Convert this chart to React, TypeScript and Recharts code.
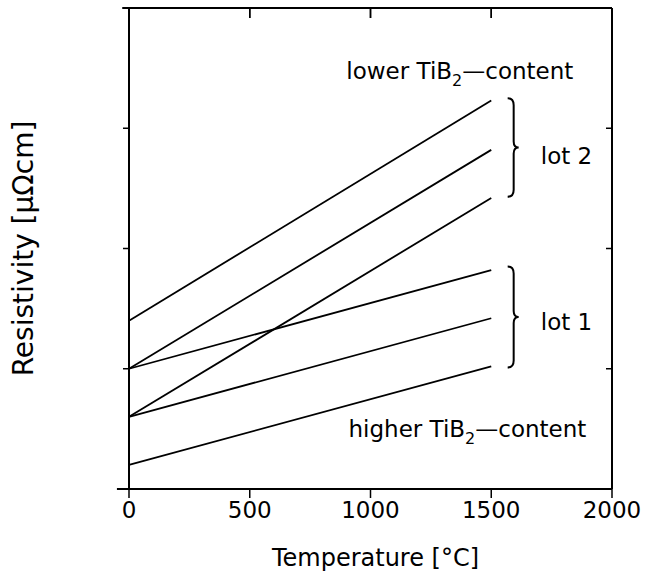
import { LineChart, Line, XAxis, YAxis, ReferenceLine, ReferenceDot } from "recharts";

// temperature (°C) at both ends of each line
const temps = [0, 1500];

// resistivity in axis units (y axis has 4 unlabeled divisions)
const lot2Upper = [1.4, 3.23];
const lot2Middle = [1.0, 2.82];
const lot2Lower = [0.6, 2.42];
const lot1Upper = [1.0, 1.82];
const lot1Middle = [0.6, 1.42];
const lot1Lower = [0.2, 1.02];

const xTicks = [0, 500, 1000, 1500, 2000];
const yTicks = [0, 1, 2, 3, 4];

const rows = temps.map((t, i) => ({
    t,
    l2a: lot2Upper[i],
    l2b: lot2Middle[i],
    l2c: lot2Lower[i],
    l1a: lot1Upper[i],
    l1b: lot1Middle[i],
    l1c: lot1Lower[i],
}));

const seriesKeys = ["l2a", "l2b", "l2c", "l1a", "l1b", "l1c"];

const FONT = "'DejaVu Sans', sans-serif";
const Y_MAX = yTicks[yTicks.length - 1];

// tick marks only, no tick text
const NoText = () => <g />;

const Brace = (props: any) => {
    const { x1, y1, y2 } = props;
    const top = Math.min(y1, y2);
    const bot = Math.max(y1, y2);
    const mid = (top + bot) / 2;
    const x = x1;
    const d = `M ${x} ${top} Q ${x + 6} ${top} ${x + 6} ${top + 7} L ${x + 6} ${mid - 6} Q ${x + 6} ${mid} ${x + 11} ${mid} Q ${x + 6} ${mid} ${x + 6} ${mid + 6} L ${x + 6} ${bot - 7} Q ${x + 6} ${bot} ${x} ${bot}`;
    return <path d={d} fill="none" stroke="#000" strokeWidth={2} />;
};

// inward tick on the top frame: only the top 10px of a full-height reference line
const TopTick = (props: any) => {
    const { x1, y1, y2 } = props;
    const top = Math.min(y1, y2);
    const d = `M ${x1} ${top} L ${x1} ${top + 10}`;
    return <path d={d} fill="none" stroke="#000" strokeWidth={1.5} />;
};

const TiB2Label = (word: string) => (props: any) => (
    <text x={props.cx} y={props.cy} fontSize={23} fontFamily={FONT} fill="#000">
        {word} TiB
        <tspan dy={7} fontSize={16}>2</tspan>
        <tspan dy={-7}>—content</tspan>
    </text>
);

const PlainLabel = (txt: string) => (props: any) => (
    <text x={props.cx} y={props.cy} fontSize={23} fontFamily={FONT} fill="#000">
        {txt}
    </text>
);

const YTitle = (props: any) => {
    const vb = props.viewBox;
    const cx = vb.x + 23;
    const cy = vb.y + vb.height / 2;
    return (
        <text x={cx} y={cy} transform={`rotate(-90 ${cx} ${cy})`} textAnchor="middle"
              dominantBaseline="central" fontSize={28} fontFamily={FONT} fill="#000">
            Resistivity [μΩcm]
        </text>
    );
};

const XTitle = (props: any) => {
    const vb = props.viewBox;
    return (
        <text x={vb.x + vb.width / 2 + 5} y={vb.y + 77} textAnchor="middle"
              fontSize={24} fontFamily={FONT} fill="#000">
            Temperature [°C]
        </text>
    );
};

const App = () => {
    return (
        <div>
            <style>{`body{margin:0}`}</style>
            <LineChart width={654} height={579} data={rows}
                       margin={{ top: 8, right: 42, bottom: 0, left: 0 }}
                       style={{ fontFamily: FONT }}>
                <XAxis dataKey="t" type="number" domain={[0, 2000]} ticks={xTicks}
                       height={90} tickSize={9} tickMargin={4} interval={0}
                       axisLine={{ stroke: "#000", strokeWidth: 2 }}
                       tickLine={{ stroke: "#000", strokeWidth: 1.5 }}
                       tick={{ fill: "#000", fontSize: 23 }}
                       label={<XTitle />} />
                <XAxis xAxisId="top" orientation="top" dataKey="t" type="number" domain={[0, 2000]}
                       ticks={xTicks} height={1} mirror tickSize={10} tick={NoText} interval={0}
                       axisLine={{ stroke: "#000", strokeWidth: 2 }}
                       tickLine={{ stroke: "#000", strokeWidth: 1.5 }} />
                <YAxis type="number" domain={[0, 4]} ticks={yTicks} width={129} tickSize={6} tick={NoText}
                       interval={0}
                       axisLine={{ stroke: "#000", strokeWidth: 2 }}
                       tickLine={{ stroke: "#000", strokeWidth: 1.5 }}
                       label={<YTitle />} />
                <YAxis yAxisId="right" orientation="right" type="number" domain={[0, 4]} ticks={yTicks}
                       width={1} mirror tickSize={6} tick={NoText} interval={0}
                       axisLine={{ stroke: "#000", strokeWidth: 2 }}
                       tickLine={{ stroke: "#000", strokeWidth: 1.5 }} />

                {/* small overshoots of the frame lines at the left corners */}
                <ReferenceLine segment={[{ x: -50, y: 0 }, { x: 0, y: 0 }]} ifOverflow="visible"
                               stroke="#000" strokeWidth={2} />
                <ReferenceLine segment={[{ x: -28, y: Y_MAX }, { x: 0, y: Y_MAX }]} ifOverflow="visible"
                               stroke="#000" strokeWidth={2} />

                {/* inward ticks along the top frame */}
                {xTicks.slice(1, -1).map(t => (
                    <ReferenceLine key={`top-${t}`} segment={[{ x: t, y: Y_MAX }, { x: t, y: 0 }]}
                                   ifOverflow="visible" shape={TopTick} />
                ))}

                {seriesKeys.map(k => (
                    <Line key={k} type="linear" dataKey={k} stroke="#000" strokeWidth={1.8}
                          dot={false} activeDot={false} isAnimationActive={false} />
                ))}
                {/* invisible copy so the top/right frame axes have a series bound to them */}
                <Line xAxisId="top" yAxisId="right" dataKey="l1c" stroke="none" dot={false}
                      activeDot={false} legendType="none" isAnimationActive={false} />

                <ReferenceLine segment={[{ x: 1568, y: 3.25 }, { x: 1568, y: 2.43 }]} shape={Brace} />
                <ReferenceLine segment={[{ x: 1568, y: 1.85 }, { x: 1568, y: 1.01 }]} shape={Brace} />

                <ReferenceDot x={900} y={3.41} r={0} shape={TiB2Label("lower")} />
                <ReferenceDot x={909} y={0.43} r={0} shape={TiB2Label("higher")} />
                <ReferenceDot x={1705} y={2.7} r={0} shape={PlainLabel("lot 2")} />
                <ReferenceDot x={1705} y={1.325} r={0} shape={PlainLabel("lot 1")} />
            </LineChart>
        </div>
    );
};

export default App;
